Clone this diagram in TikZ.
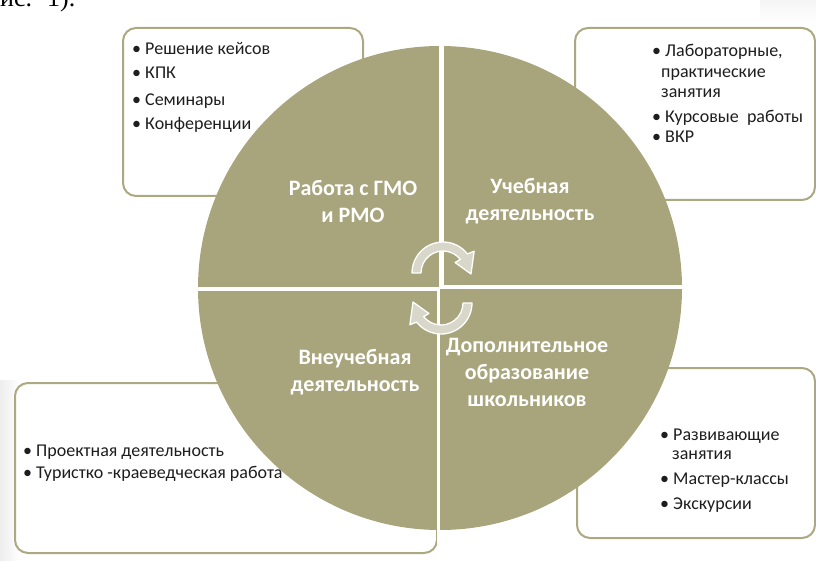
\documentclass[tikz,border=0pt]{standalone}
\usepackage{fontspec}
\setmainfont{Carlito}
\newfontfamily\fragfont{Liberation Serif}
\definecolor{circfill}{RGB}{168,164,124}
\definecolor{boxline}{RGB}{172,168,130}
\definecolor{arrowfill}{RGB}{216,215,202}
\definecolor{boxtext}{RGB}{30,30,30}
\tikzset{
  infobox/.style={draw=boxline, line width=2pt, fill=white, rounded corners=13pt, inner sep=0pt},
  itemtext/.style={anchor=base west, inner sep=0pt, text=boxtext, font=\fontsize{18}{20}\selectfont},
  circlabel/.style={align=center, inner sep=0pt, text=white, font=\bfseries\fontsize{22}{27}\selectfont},
  gapline/.style={draw=white},
  cyclearrow/.pic={
    \begin{scope}[yscale=-1]
      \path[fill=arrowfill, draw=white, line width=1.3pt, line join=round]
        (180:31) arc[start angle=180, end angle=38, radius=31]
        -- (35:38) -- (-2:28) -- (41:16) -- (38:22)
        arc[start angle=38, end angle=180, radius=22] -- cycle;
    \end{scope}
  }
}
\begin{document}
\begin{tikzpicture}[x=1pt,y=-1pt]
\useasboundingbox (0,0) rectangle (816,561);
% faint page shadow
\shade[left color=black!7, right color=white] (0,380) rectangle (20,561);
\shade[top color=black!4, bottom color=white] (760,0) rectangle (816,24);
% fragment of the surrounding document text
\begin{scope}
  \clip (0,0) rectangle (130,14);
  \node[anchor=base west, inner sep=0pt, font=\fragfont\fontsize{26}{26}\selectfont] (frag) at (0,7) {ис.\hspace{15pt}1).};
\end{scope}
% information boxes
\node[infobox, minimum width=240pt, minimum height=168pt] (box1) at (243,112) {};
\node[infobox, minimum width=240pt, minimum height=172pt] (box2) at (695,114) {};
\node[infobox, minimum width=422pt, minimum height=170pt] (box3) at (226,468) {};
\node[infobox, minimum width=238pt, minimum height=170pt] (box4) at (696,453) {};
% central circle
\node[circle, fill=circfill, minimum size=484pt, inner sep=0pt] (circ) at (440,288) {};
% white gaps between the quarters
\draw[gapline, line width=5pt] (441.5,30) -- (441.5,288);
\draw[gapline, line width=3pt] (438.5,287) -- (438.5,545);
\draw[gapline, line width=3.5pt] (180,289) -- (440,289);
\draw[gapline, line width=3.5pt] (440,287) -- (700,287);
% cycle arrows
\pic (arrowtop) at (443,273) {cyclearrow};
\pic[rotate=180] (arrowbottom) at (441,303) {cyclearrow};
% quarter labels
\node[circlabel] (q1) at (353,201) {Работа с ГМО\\и РМО};
\node[circlabel] (q2) at (530,201) {Учебная\\деятельность};
\node[circlabel] (q3) at (355,372) {Внеучебная\\деятельность};
\node[circlabel] (q4) at (527,372) {Дополнительное\\образование\\школьников};
% box 1 items
\node[itemtext] (b1a) at (132,55) {• Решение кейсов};
\node[itemtext] (b1b) at (132,79) {• КПК};
\node[itemtext] (b1c) at (132,106) {• Семинары};
\node[itemtext] (b1d) at (132,130) {• Конференции};
% box 2 items
\node[itemtext] (b2a) at (652,57) {• Лабораторные,};
\node[itemtext] (b2b) at (661,78) {практические};
\node[itemtext] (b2c) at (661,98) {занятия};
\node[itemtext] (b2d) at (652,123) {• Курсовые\ \ работы};
\node[itemtext] (b2e) at (652,143) {• ВКР};
% box 3 items
\node[itemtext] (b3a) at (23,456) {• Проектная деятельность};
\node[itemtext] (b3b) at (23,478) {• Туристко -краеведческая работа};
% box 4 items
\node[itemtext] (b4a) at (660,440) {• Развивающие};
\node[itemtext] (b4b) at (672,459) {занятия};
\node[itemtext] (b4c) at (660,484) {• Мастер-классы};
\node[itemtext] (b4d) at (660,509) {• Экскурсии};
\end{tikzpicture}
\end{document}
